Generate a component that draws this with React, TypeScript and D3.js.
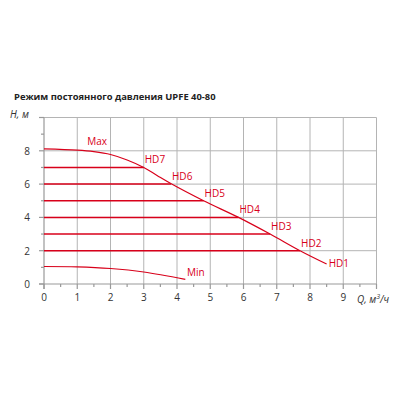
import React, { useRef, useEffect } from 'react';
import * as d3 from 'd3';

const title = 'Режим постоянного давления UPFE 40-80';
const xTicks = [0, 1, 2, 3, 4, 5, 6, 7, 8, 9];
const yTicks = [0, 2, 4, 6, 8];

// Max curve (Q, H)
const maxCurve: [number, number][] = [
    [0, 8.12], [1, 8.04], [1.5, 7.95], [2, 7.78], [2.5, 7.45], [3, 7.0],
    [3.4, 6.52], [3.8, 6.05], [4.8, 5.0], [5.85, 4.0], [6.8, 3.0], [7.7, 2.0], [8.5, 1.2],
];
const minCurve: [number, number][] = [
    [0, 1.05], [1, 1.03], [2, 0.93], [3, 0.72], [4.25, 0.28],
];

// constant pressure modes
const hdNames = ['HD1', 'HD2', 'HD3', 'HD4', 'HD5', 'HD6', 'HD7'];
const hdHeads = [1.2, 2, 3, 4, 5, 6, 7];
const hdFlows = [8.5, 7.7, 6.8, 5.85, 4.8, 3.82, 3.0];

const red = '#d8001a';

const App: React.FC = () => {
    const svgRef = useRef<SVGSVGElement>(null);

    useEffect(() => {
        if (!svgRef.current) return;
        const svg = d3.select(svgRef.current);
        svg.selectAll('*').remove();

        const x = d3.scaleLinear().domain([0, 10]).range([44, 376.5]);
        const y = d3.scaleLinear().domain([0, 10]).range([284, 117.5]);
        const font = 'Open Sans, Noto Sans, sans-serif';

        // title
        svg.append('text')
            .attr('x', 14).attr('y', 100)
            .text(title)
            .attr('font-family', font)
            .attr('font-size', '9.4px')
            .attr('font-weight', 'bold')
            .attr('fill', '#222');

        const grid = svg.append('g').attr('stroke', '#b4b4b4').attr('stroke-width', 1);
        d3.range(1, 11).forEach(v => {
            grid.append('line')
                .attr('x1', x(v)).attr('x2', x(v))
                .attr('y1', y(0)).attr('y2', y(10));
        });
        [2, 4, 6, 8, 10].forEach(v => {
            grid.append('line')
                .attr('x1', x(0)).attr('x2', x(10))
                .attr('y1', y(v)).attr('y2', y(v));
        });

        // axes
        const axis = svg.append('g').attr('stroke', '#999').attr('stroke-width', 1.2);
        axis.append('line').attr('x1', x(0)).attr('x2', x(0)).attr('y1', y(0) + 5).attr('y2', y(10));
        axis.append('line').attr('x1', x(0) - 5).attr('x2', x(10)).attr('y1', y(0)).attr('y2', y(0));
        d3.range(0, 10.5, 0.5).forEach(v => {
            axis.append('line')
                .attr('x1', x(v)).attr('x2', x(v))
                .attr('y1', y(0)).attr('y2', y(0) + (v % 1 === 0 ? 5 : 3));
        });
        d3.range(0, 11, 1).forEach(v => {
            axis.append('line')
                .attr('x1', x(0) - (v % 2 === 0 ? 5 : 3)).attr('x2', x(0))
                .attr('y1', y(v)).attr('y2', y(v));
        });

        xTicks.forEach(v => {
            svg.append('text')
                .attr('x', x(v)).attr('y', y(0) + 17)
                .attr('text-anchor', 'middle')
                .text(v)
                .attr('font-family', font).attr('font-size', '10px').attr('fill', '#333');
        });
        yTicks.forEach(v => {
            svg.append('text')
                .attr('x', 30).attr('y', y(v) + 4)
                .attr('text-anchor', 'end')
                .text(v)
                .attr('font-family', font).attr('font-size', '10px').attr('fill', '#333');
        });

        svg.append('text')
            .attr('x', 10).attr('y', 118)
            .text('H, м')
            .attr('font-family', font).attr('font-size', '10px')
            .attr('font-style', 'italic').attr('fill', '#333');

        const ql = svg.append('text')
            .attr('x', 357).attr('y', 303)
            .attr('font-family', font).attr('font-size', '10px')
            .attr('font-style', 'italic').attr('fill', '#333');
        ql.append('tspan').text('Q, м');
        ql.append('tspan').text('3').attr('font-size', '7px').attr('dy', -4);
        ql.append('tspan').text('/ч').attr('dy', 4);

        // HD lines
        hdHeads.forEach((h, i) => {
            svg.append('line')
                .attr('x1', x(0)).attr('x2', x(hdFlows[i]))
                .attr('y1', y(h)).attr('y2', y(h))
                .attr('stroke', red).attr('stroke-width', 1.5)
                .attr('opacity', i === 0 ? 0 : 1);
        });

        const line = d3.line<[number, number]>()
            .x(d => x(d[0])).y(d => y(d[1]))
            .curve(d3.curveCatmullRom.alpha(0.5));

        svg.append('path').datum(maxCurve)
            .attr('d', line).attr('fill', 'none')
            .attr('stroke', red).attr('stroke-width', 1.2);
        svg.append('path').datum(minCurve)
            .attr('d', line).attr('fill', 'none')
            .attr('stroke', red).attr('stroke-width', 1.2);

        const label = (t: string, px: number, py: number) => {
            svg.append('text')
                .attr('x', px).attr('y', py)
                .text(t)
                .attr('font-family', font).attr('font-size', '10px')
                .attr('font-weight', 500)
                .attr('fill', red);
        };
        hdNames.forEach((n, i) => {
            if (i === 0) label(n, x(hdFlows[i]) + 2, y(hdHeads[i]) + 3);
            else label(n, x(hdFlows[i]) + 1, y(hdHeads[i]) - 4);
        });
        label('Max', x(1.3), y(8.35));
        label('Min', x(4.3), y(0.3) - 3);
    }, []);

    return (
        <svg ref={svgRef} width={400} height={400} viewBox="0 0 400 400"
            style={{ position: 'absolute', left: 0, top: 0, background: '#fff' }} />
    );
};

export default App;
